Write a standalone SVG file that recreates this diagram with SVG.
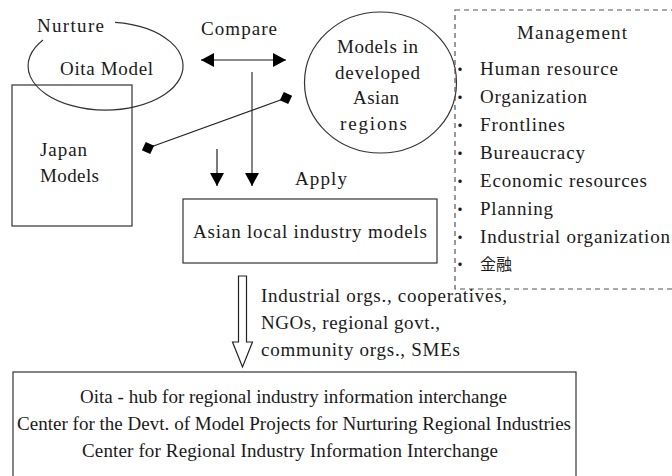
<svg xmlns="http://www.w3.org/2000/svg" width="672" height="476" viewBox="0 0 672 476">
<style>
  text { font-family: "Liberation Serif", "Times New Roman", "DejaVu Serif", serif; font-size: 19px; fill: #1a1a1a; }
  .cjk { font-family: "Noto Sans CJK JP", sans-serif; font-size: 16px; }
  .box { fill: none; stroke: #333; stroke-width: 1.2; }
  .dash { fill: none; stroke: #555; stroke-width: 1.2; stroke-dasharray: 5 4; }
  .conn { fill: none; stroke: #222; stroke-width: 1.2; }
  .gray { fill: none; stroke: #666; stroke-width: 1.6; }
</style>
<defs>
  <marker id="ah" viewBox="0 0 13 14" refX="13" refY="7" markerWidth="13" markerHeight="14" markerUnits="userSpaceOnUse" orient="auto-start-reverse">
    <path d="M0,0 L13,7 L0,14 Z" fill="#000"/>
  </marker>
  <marker id="dm" viewBox="-7 -7 14 14" refX="0" refY="0" markerWidth="14" markerHeight="14" markerUnits="userSpaceOnUse" orient="auto">
    <path d="M-6.5,0 L0,-6.5 L6.5,0 L0,6.5 Z" fill="#000"/>
  </marker>
</defs>

<g id="oita-model">
  <path class="box" d="M115,22.3 A77.5,44 0 1 1 43,40"/>
  <text x="37" y="32" textLength="67">Nurture</text>
  <text x="60" y="75" textLength="93">Oita Model</text>
</g>

<g id="japan-models">
  <rect class="box" x="12" y="85" width="120" height="141"/>
  <text x="40" y="156" textLength="47">Japan</text>
  <text x="40" y="181.5" textLength="59">Models</text>
</g>

<g id="compare-label">
  <text x="201" y="35" textLength="76">Compare</text>
</g>

<g id="asian-developed">
  <ellipse class="box" cx="380.5" cy="82.5" rx="76" ry="70.5"/>
  <text x="337" y="53" textLength="81">Models in</text>
  <text x="335" y="79" textLength="85">developed</text>
  <text x="353" y="104" textLength="46">Asian</text>
  <text x="340" y="129.5" textLength="67">regions</text>
</g>

<g id="management">
  <rect class="dash" x="455" y="10" width="230" height="279"/>
  <text x="517" y="39" textLength="110">Management</text>
  <text><tspan class="cjk" x="452" y="75">・</tspan><tspan x="480" y="75" textLength="138">Human resource</tspan></text>
  <text><tspan class="cjk" x="452" y="103">・</tspan><tspan x="480" y="103" textLength="107">Organization</tspan></text>
  <text><tspan class="cjk" x="452" y="131">・</tspan><tspan x="480" y="131" textLength="85">Frontlines</tspan></text>
  <text><tspan class="cjk" x="452" y="159">・</tspan><tspan x="480" y="159" textLength="105">Bureaucracy</tspan></text>
  <text><tspan class="cjk" x="452" y="187">・</tspan><tspan x="480" y="187" textLength="167">Economic resources</tspan></text>
  <text><tspan class="cjk" x="452" y="215">・</tspan><tspan x="480" y="215" textLength="73">Planning</tspan></text>
  <text><tspan class="cjk" x="452" y="243">・</tspan><tspan x="480" y="243" textLength="190">Industrial organization</tspan></text>
  <text><tspan class="cjk" x="452" y="270">・</tspan><tspan class="cjk" x="480" y="270" font-size="17">金融</tspan></text>
</g>

<g id="apply-label">
  <text x="295" y="185" textLength="52">Apply</text>
</g>

<g id="asian-local">
  <rect class="box" x="183" y="199" width="254" height="64"/>
  <text x="193" y="238" textLength="234">Asian local industry models</text>
</g>

<g id="actors">
  <text x="261" y="302" textLength="246">Industrial orgs., cooperatives,</text>
  <text x="261" y="329" textLength="179">NGOs, regional govt.,</text>
  <text x="261" y="356" textLength="199">community orgs., SMEs</text>
</g>

<g id="oita-hub">
  <rect class="box" x="13" y="372" width="563" height="110"/>
  <text x="80" y="403" textLength="427">Oita - hub for regional industry information interchange</text>
  <text x="17" y="430" textLength="554">Center for the Devt. of Model Projects for Nurturing Regional Industries</text>
  <text x="82" y="457" textLength="416">Center for Regional Industry Information Interchange</text>
</g>

<g id="connectors">
  <line class="gray" x1="201" y1="60" x2="286" y2="60" marker-start="url(#ah)" marker-end="url(#ah)"/>
  <line class="gray" x1="252" y1="72" x2="252" y2="186" marker-end="url(#ah)"/>
  <line class="conn" x1="217" y1="149" x2="217" y2="186" marker-end="url(#ah)"/>
  <line class="conn" x1="148" y1="148" x2="286" y2="98" marker-start="url(#dm)" marker-end="url(#dm)"/>
  <path class="conn" d="M238.5,276 L246.5,276 L246.5,342 L252.5,342 L242.5,367 L232.5,342 L238.5,342 Z" fill="#fff"/>
</g>
</svg>
